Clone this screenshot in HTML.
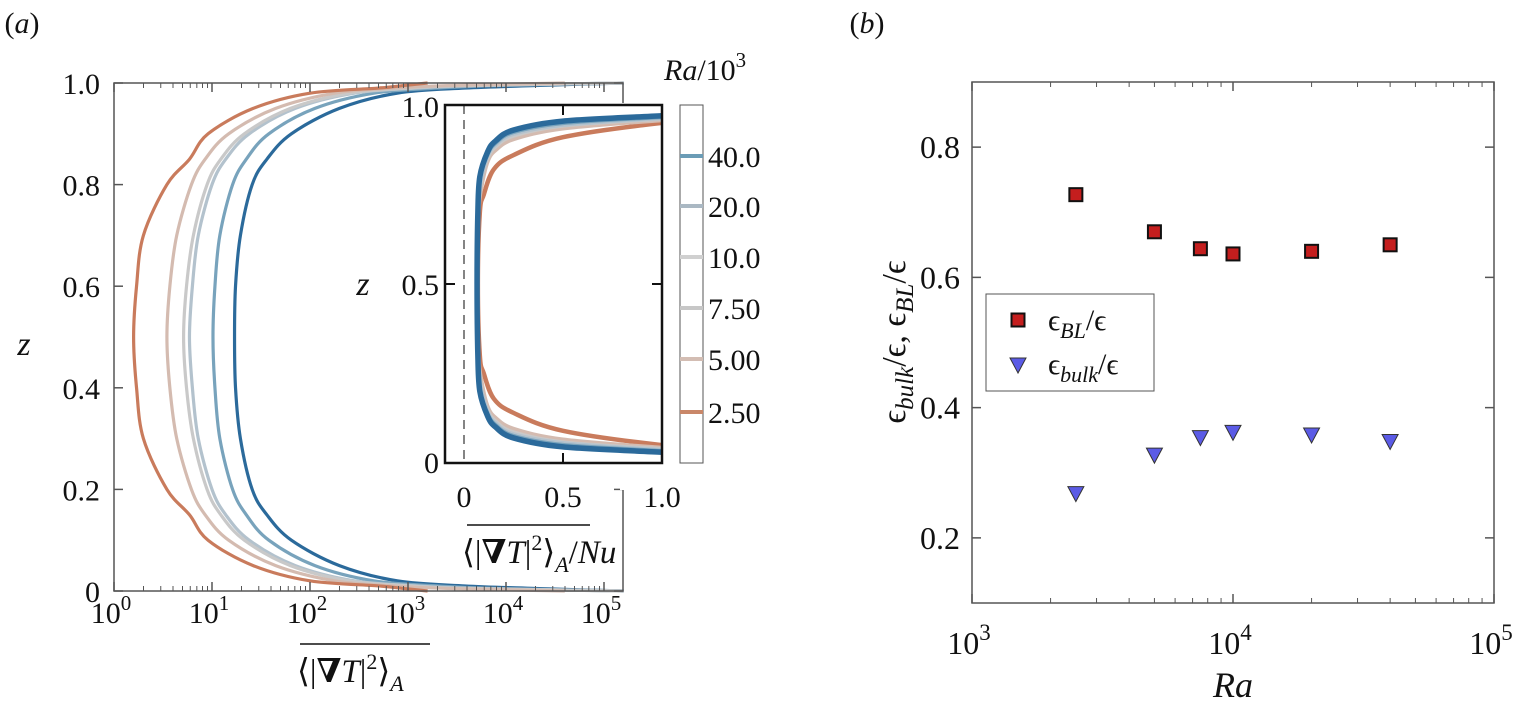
<!DOCTYPE html>
<html><head><meta charset="utf-8"><style>
body{margin:0;background:#fff;}
svg, svg text, svg tspan{font-family:"Liberation Serif","DejaVu Serif",serif;}
svg text{fill:#111;}
</style></head><body>
<svg id="fig" width="1517" height="709" viewBox="0 0 1517 709" xmlns="http://www.w3.org/2000/svg" font-family="Liberation Serif, serif">
<g id="pa"></g>
<g id="pb"></g>
</svg>
<script>
// ---------- Panel (a) data ----------
const raLabels = ["40.0","20.0","10.0","7.50","5.00","2.50"];
const curveColors = ["#2b6a9b","#78a3bc","#b3c2cd","#c9c9c9","#d4bbb0","#c97b5c"];
const barColors = ["#6b9cb6","#aab8c3","#d0d0d0","#c7c7c7","#d3bdb3","#c98769"];
const zPts = [0,0.005,0.01,0.02,0.05,0.1,0.15,0.2,0.3,0.4,0.5];
const log40 = [5.2,4.3,3.58,2.89,2.30,1.81,1.56,1.41,1.29,1.24,1.23];
const log20 = [5.2,3.9,3.3,2.65,2.05,1.58,1.35,1.21,1.08,1.03,1.01];
const log10v = [5.2,3.7,3.1,2.45,1.85,1.38,1.14,1.0,0.86,0.80,0.77];
const log7_5 = [5.2,3.6,3.0,2.4,1.8,1.33,1.09,0.95,0.81,0.74,0.71];
const log5 = [4.6,3.4,2.85,2.25,1.65,1.17,0.93,0.79,0.64,0.57,0.54];
const log2_5 = [3.2,2.95,2.7,2.0,1.42,0.96,0.77,0.54,0.30,0.23,0.2];
const mainSeries = [log40,log20,log10v,log7_5,log5,log2_5];
// inset: normalized by Nu
const insZ40 = [0.03,0.045,0.07,0.1,0.13,0.2,0.3,0.5];
const insX40 = [1.0,0.5,0.25,0.16,0.12,0.08,0.07,0.066];
const insZ20 = [0.033,0.05,0.075,0.105,0.135,0.2,0.3,0.5];
const insX20 = [1.0,0.5,0.25,0.16,0.12,0.08,0.07,0.066];
const insZ10 = [0.036,0.055,0.08,0.11,0.14,0.21,0.3,0.5];
const insX10 = [1.0,0.5,0.25,0.16,0.12,0.085,0.07,0.066];
const insZ7_5 = [0.038,0.057,0.085,0.115,0.145,0.21,0.3,0.5];
const insX7_5 = [1.0,0.5,0.25,0.16,0.12,0.085,0.07,0.066];
const insZ5 = [0.042,0.065,0.095,0.125,0.155,0.22,0.3,0.5];
const insX5 = [1.0,0.5,0.25,0.16,0.12,0.09,0.072,0.068];
const insZ2_5 = [0.05,0.09,0.14,0.18,0.25,0.3,0.5];
const insX2_5 = [1.0,0.5,0.25,0.15,0.1,0.08,0.07];
const insetZ = [insZ40,insZ20,insZ10,insZ7_5,insZ5,insZ2_5];
const insetX = [insX40,insX20,insX10,insX7_5,insX5,insX2_5];
const mainYTicks = [0,0.2,0.4,0.6,0.8,1.0];
const mainYTickLabels = ["0","0.2","0.4","0.6","0.8","1.0"];
const mainXDecades = [0,1,2,3,4,5];

// ---------- Panel (b) data ----------
const raValues = [2500,5000,7500,10000,20000,40000];
const epsBL = [0.727,0.670,0.644,0.636,0.640,0.650];
const epsBulk = [0.268,0.327,0.354,0.362,0.358,0.348];
const bYTicks = [0.2,0.4,0.6,0.8];
const bYTickLabels = ["0.2","0.4","0.6","0.8"];
const bXDecades = [3,4,5];

const NS="http://www.w3.org/2000/svg";
const SERIF="Liberation Serif, serif";
function mk(tag,attrs,parent){const e=document.createElementNS(NS,tag);for(const k in attrs)e.setAttribute(k,attrs[k]);if(tag==='text')e.setAttribute('font-family',SERIF);parent.appendChild(e);return e;}
function smooth(pts){
  let d='M'+pts[0][0]+','+pts[0][1];
  for(let i=0;i<pts.length-1;i++){
    const p0=pts[Math.max(i-1,0)],p1=pts[i],p2=pts[i+1],p3=pts[Math.min(i+2,pts.length-1)];
    const c1=[p1[0]+(p2[0]-p0[0])/6,p1[1]+(p2[1]-p0[1])/6];
    const c2=[p2[0]-(p3[0]-p1[0])/6,p2[1]-(p3[1]-p1[1])/6];
    d+=` C${c1[0]},${c1[1]} ${c2[0]},${c2[1]} ${p2[0]},${p2[1]}`;
  }
  return d;
}
const pa=document.getElementById('pa'), pb=document.getElementById('pb');

const aL=114,aR=623,aT=83,aB=591,dec=98;
const ax=l=>aL+l*dec;
const ay=z=>aB-(aB-aT)*z;
const AXC="#555";

const mcp=mk('clipPath',{id:'mainclip'},pa);mk('rect',{x:aL,y:aT-3,width:aR-aL+3,height:aB-aT+6},mcp);
mainSeries.forEach((s,i)=>{
  const pts=[];
  for(let k=0;k<zPts.length;k++){pts.push([ax(s[k]),ay(zPts[k])]);}
  for(let k=zPts.length-2;k>=0;k--){pts.push([ax(s[k]),ay(1-zPts[k])]);}
  const p=mk('path',{d:smooth(pts),fill:'none',stroke:curveColors[i],'stroke-width':3.2,'clip-path':'url(#mainclip)'},pa);
  
  
});
const mb=mk('rect',{x:aL,y:aT,width:aR-aL,height:aB-aT,fill:'none',stroke:AXC,'stroke-width':1.5},pa);

mainXDecades.forEach(d=>{
  const x=ax(d);
  mk('line',{x1:x,x2:x,y1:aB,y2:aB-9,stroke:AXC,'stroke-width':1.5},pa);
  mk('line',{x1:x,x2:x,y1:aT,y2:aT+9,stroke:AXC,'stroke-width':1.5},pa);
  const t=mk('text',{x:x-3,y:623,'font-size':30,'text-anchor':'middle'},pa);
  t.innerHTML='10<tspan dy="-13" font-size="21">'+d+'</tspan>';
  
  if(d<5)for(let m=2;m<10;m++){const xm=ax(d+Math.log10(m));if(xm>aR)break;
    mk('line',{x1:xm,x2:xm,y1:aB,y2:aB-5,stroke:AXC,'stroke-width':1},pa);
    mk('line',{x1:xm,x2:xm,y1:aT,y2:aT+5,stroke:AXC,'stroke-width':1},pa);}
});
mainYTicks.forEach((v,i)=>{
  const y=ay(v);
  mk('line',{x1:aL,x2:aL+9,y1:y,y2:y,stroke:AXC,'stroke-width':1.5},pa);
  mk('line',{x1:aR,x2:aR-9,y1:y,y2:y,stroke:AXC,'stroke-width':1.5},pa);
  const t=mk('text',{x:100,y:y+11,'font-size':30,'text-anchor':'end'},pa);
  t.textContent=mainYTickLabels[i];
  
});
let t=mk('text',{x:24,y:355,'font-size':34,'font-style':'italic','text-anchor':'middle'},pa);t.textContent='z';

t=mk('text',{x:22,y:33,'font-size':30,'text-anchor':'middle'},pa);t.innerHTML='(<tspan font-style="italic">a</tspan>)';

mk('line',{x1:300,x2:430,y1:644,y2:644,stroke:'#111','stroke-width':1.5},pa);
t=mk('text',{x:297,y:682,'font-size':33},pa);
t.innerHTML='⟨|<tspan font-weight="bold">∇</tspan><tspan font-style="italic">T</tspan>|<tspan dy="-13" font-size="22">2</tspan><tspan dy="13">⟩</tspan><tspan dy="9" font-size="22" font-style="italic">A</tspan>';


// inset
const iL=445,iR=662,iT=105,iB=463;
const ix=v=>464+(v)*198;
const iy=z=>iB-(iB-iT)*z;
mk('rect',{x:iL-2,y:iT-2,width:iR-iL+4,height:iB-iT+4,fill:'#fff'},pa);
mk('rect',{x:aR-3,y:iB+2,width:42,height:25,fill:'#fff'},pa);
const cp=mk('clipPath',{id:'insclip'},pa);mk('rect',{x:iL,y:iT,width:iR-iL,height:iB-iT},cp);
mk('line',{x1:ix(0),x2:ix(0),y1:iT,y2:iB,stroke:'#333','stroke-width':1.2,'stroke-dasharray':'9,6'},pa);
for(let i=insetZ.length-1;i>=0;i--){
  const zs=insetZ[i],xs=insetX[i],pts=[[ix(1.3),iy(zs[0]-0.01)]];
  zs.forEach((z,k)=>pts.push([ix(xs[k]),iy(z)]));
  for(let k=zs.length-2;k>=0;k--)pts.push([ix(xs[k]),iy(1-zs[k])]);
  pts.push([ix(1.3),iy(1-zs[0]+0.01)]);
  const p=mk('path',{d:smooth(pts),fill:'none',stroke:curveColors[i],'stroke-width':i==0?5.5:4.5,'clip-path':'url(#insclip)'},pa);
  
  
}
const ib=mk('rect',{x:iL,y:iT,width:iR-iL,height:iB-iT,fill:'none',stroke:'#111','stroke-width':2.5},pa);

[0.5].forEach(v=>{const x=ix(v);mk('line',{x1:x,x2:x,y1:iB,y2:iB-10,stroke:'#111','stroke-width':2},pa);mk('line',{x1:x,x2:x,y1:iT,y2:iT+10,stroke:'#111','stroke-width':2},pa);
 const y=iy(v);mk('line',{x1:iL,x2:iL+10,y1:y,y2:y,stroke:'#111','stroke-width':2},pa);mk('line',{x1:iR,x2:iR-10,y1:y,y2:y,stroke:'#111','stroke-width':2},pa);});
[[0,'0'],[0.5,'0.5'],[1.0,'1.0']].forEach(([v,s])=>{const tt=mk('text',{x:ix(v),y:507,'font-size':30,'text-anchor':'middle'},pa);tt.textContent=s;});
[[0,'0',iB+10],[0.5,'0.5',iy(0.5)+11],[1.0,'1.0',iT+12]].forEach(([v,s,y])=>{const tt=mk('text',{x:iL-6,y:y,'font-size':30,'text-anchor':'end'},pa);tt.textContent=s;});
t=mk('text',{x:363,y:295,'font-size':34,'font-style':'italic','text-anchor':'middle'},pa);t.textContent='z';

mk('line',{x1:467,x2:590,y1:525,y2:525,stroke:'#111','stroke-width':1.5},pa);
t=mk('text',{x:462,y:563,'font-size':33},pa);
t.innerHTML='⟨|<tspan font-weight="bold">∇</tspan><tspan font-style="italic">T</tspan>|<tspan dy="-13" font-size="22">2</tspan><tspan dy="13">⟩</tspan><tspan dy="9" font-size="22" font-style="italic">A</tspan><tspan dy="-9">/</tspan><tspan font-style="italic">Nu</tspan>';


// colorbar
const cb=mk('rect',{x:680,y:105,width:23,height:358,fill:'#fff',stroke:'#555','stroke-width':1},pa);

const cbY=[156,206,257,308,359,412];
raLabels.forEach((s,i)=>{
  mk('line',{x1:680,x2:703,y1:cbY[i],y2:cbY[i],stroke:barColors[i],'stroke-width':4},pa);
  const tt=mk('text',{x:708,y:cbY[i]+11,'font-size':30},pa);tt.textContent=s;
  
});
t=mk('text',{x:664,y:80,'font-size':30},pa);
t.innerHTML='<tspan font-style="italic">Ra</tspan>/10<tspan dy="-13" font-size="21">3</tspan>';


// ---------- Panel (b) ----------
const bL=972,bR=1494,bT=82,bB=603;
const bx=v=>bL+(Math.log10(v)-3)/2*(bR-bL);
const by=v=>bB-(v-0.1)/0.8*(bB-bT);
const bf=mk('rect',{x:bL,y:bT,width:bR-bL,height:bB-bT,fill:'none',stroke:AXC,'stroke-width':1.5},pb);

bXDecades.forEach(d=>{
  const x=bx(Math.pow(10,d));
  mk('line',{x1:x,x2:x,y1:bB,y2:bB-9,stroke:AXC,'stroke-width':1.5},pb);
  mk('line',{x1:x,x2:x,y1:bT,y2:bT+9,stroke:AXC,'stroke-width':1.5},pb);
  const tt=mk('text',{x:x-3,y:654,'font-size':32,'text-anchor':'middle'},pb);
  tt.innerHTML='10<tspan dy="-14" font-size="23">'+d+'</tspan>';
  
  if(d<5)for(let m=2;m<10;m++){const xm=bx(m*Math.pow(10,d));
    mk('line',{x1:xm,x2:xm,y1:bB,y2:bB-5,stroke:AXC,'stroke-width':1},pb);
    mk('line',{x1:xm,x2:xm,y1:bT,y2:bT+5,stroke:AXC,'stroke-width':1},pb);}
});
bYTicks.forEach((v,i)=>{
  const y=by(v);
  mk('line',{x1:bL,x2:bL+9,y1:y,y2:y,stroke:AXC,'stroke-width':1.5},pb);
  mk('line',{x1:bR,x2:bR-9,y1:y,y2:y,stroke:AXC,'stroke-width':1.5},pb);
  const tt=mk('text',{x:960,y:y+11,'font-size':32,'text-anchor':'end'},pb);tt.textContent=bYTickLabels[i];
  
});
raValues.forEach((r,i)=>{
  const x=bx(r),y=by(epsBL[i]);
  const s=mk('rect',{x:x-6.5,y:y-6.5,width:13,height:13,fill:'#c41e1e',stroke:'#111','stroke-width':2},pb);
  
  const y2=by(epsBulk[i]);
  const tr=mk('polygon',{points:`${x-8},${y2-7} ${x+8},${y2-7} ${x},${y2+8}`,fill:'#5b5be6',stroke:'#333','stroke-width':1},pb);
  
});
const lg=mk('g',{},pb);
mk('rect',{x:986,y:294,width:168,height:97,fill:'#fff',stroke:'#555','stroke-width':1},lg);
mk('rect',{x:1011.5,y:313.5,width:13,height:13,fill:'#c41e1e',stroke:'#111','stroke-width':2},lg);
mk('polygon',{points:'1010,358 1026,358 1018,373',fill:'#5b5be6',stroke:'#333','stroke-width':1},lg);
t=mk('text',{x:1048,y:330,'font-size':30},lg);
t.innerHTML='ϵ<tspan dy="8" font-size="22" font-style="italic">BL</tspan><tspan dy="-8">/ϵ</tspan>';

t=mk('text',{x:1048,y:374,'font-size':30},lg);
t.innerHTML='ϵ<tspan dy="8" font-size="22" font-style="italic">bulk</tspan><tspan dy="-8">/ϵ</tspan>';

t=mk('text',{x:1233,y:697,'font-size':36,'font-style':'italic','text-anchor':'middle'},pb);t.textContent='Ra';

t=mk('text',{x:0,y:0,'font-size':34,'text-anchor':'middle',transform:'translate(905,342) rotate(-90)'},pb);
t.innerHTML='ϵ<tspan dy="8" font-size="25" font-style="italic">bulk</tspan><tspan dy="-8">/ϵ, ϵ</tspan><tspan dy="8" font-size="25" font-style="italic">BL</tspan><tspan dy="-8">/ϵ</tspan>';

t=mk('text',{x:867,y:33,'font-size':30,'text-anchor':'middle'},pb);t.innerHTML='(<tspan font-style="italic">b</tspan>)';

</script>
</body></html>
